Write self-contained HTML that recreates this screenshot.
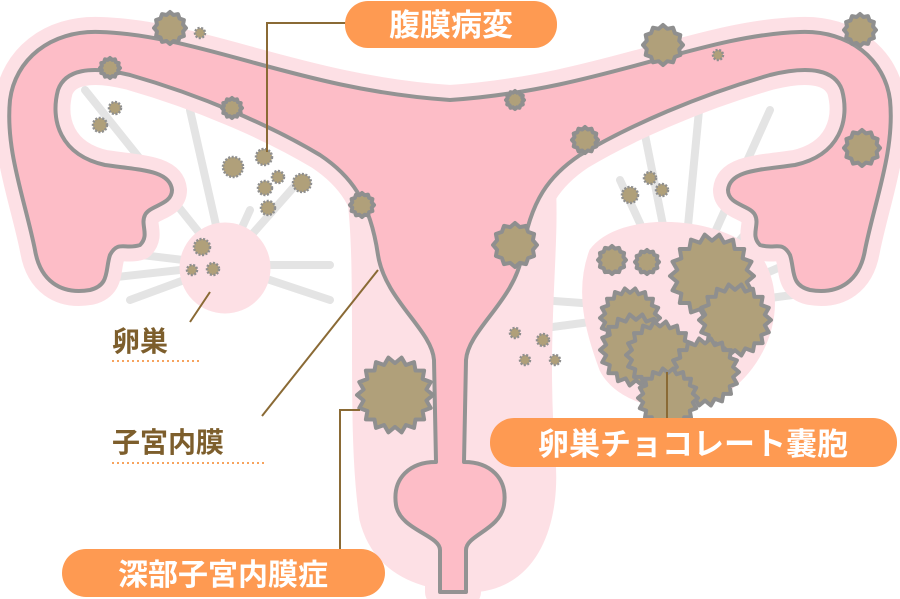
<!DOCTYPE html>
<html><head><meta charset="utf-8"><style>
html,body{margin:0;padding:0;background:#fff;width:900px;height:599px;overflow:hidden}
svg{display:block}
</style></head><body>
<svg id="s" width="900" height="599" viewBox="0 0 900 599" xmlns="http://www.w3.org/2000/svg">
<defs>
<path id="ut" d="M440,592 L440,550 C440,535 400,530 396,505 C392,478 410,462 436,462 L434,360 C432,330 385,300 378,255 C370,200 350,175 320,155 C270,125 200,95 130,75 C90,65 65,70 58,90 C50,120 60,155 105,165 C140,170 170,170 172,190 C172,205 150,205 145,215 C140,225 150,235 140,245 C125,250 118,240 110,255 C105,270 110,285 90,290 C60,295 40,280 35,250 C25,200 5,150 10,100 C15,60 50,30 100,32 C200,35 300,90 450,100 C600,90 700,35 800,32 C850,30 885,60 890,100 C895,150 875,200 865,250 C860,280 840,295 810,290 C790,285 795,270 790,255 C782,240 775,250 760,245 C750,235 760,225 755,215 C750,205 728,205 728,190 C730,170 760,170 795,165 C840,155 850,120 842,90 C835,70 810,65 770,75 C700,95 630,125 580,155 C550,175 530,200 522,255 C515,300 468,330 466,360 L464,462 C490,462 508,478 504,505 C500,530 466,535 466,550 L466,592 Z"/>
</defs>
<!-- ligament spokes -->
<g stroke="#e4e4e4" stroke-width="8" fill="none" stroke-linecap="round">
<path d="M225,265 L85,90 M225,265 L190,110 M225,265 L250,210 M225,265 L300,180 M225,265 L90,280 M225,265 L130,300 M225,265 L330,265 M225,265 L330,300 M225,265 L100,250"/>
<path d="M680,310 L640,110 M680,310 L700,100 M680,310 L770,110 M680,310 L800,170 M680,310 L820,250 M680,310 L830,290 M680,310 L540,300 M680,310 L530,330 M680,310 L620,180"/>
</g>
<!-- halo -->
<g fill="#fde0e5" stroke="#fde0e5" stroke-linejoin="round" stroke-linecap="round">
<path d="M345,180 C360,260 345,420 360,520 C370,560 400,590 470,592 C540,590 560,520 555,460 C545,330 560,250 555,180 Z"/>
<circle cx="225" cy="268" r="45"/>
<path d="M590,250 C620,210 720,215 760,255 C790,300 770,360 730,390 C690,420 620,410 600,370 C585,330 575,290 590,250 Z"/>
</g>
<use href="#ut" fill="#fde0e5" stroke="#fde0e5" stroke-width="30" stroke-linejoin="round"/>
<use href="#ut" fill="#fdbdc7" stroke="#939393" stroke-width="4" stroke-linejoin="round"/>
<!-- ovaries -->
<circle cx="225" cy="266" r="40" fill="#fde0e5"/>
<path d="M595,255 C620,220 720,222 755,258 C780,300 765,355 725,385 C690,410 630,402 608,370 C590,335 582,290 595,255 Z" fill="#fde0e5"/>
<g id="les"></g>
<!-- leader lines -->
<g stroke="#8a6a35" stroke-width="2" fill="none">
<path d="M348,23 L267,23 L267,152"/>
<path d="M210,292 L190,322"/>
<path d="M262,416 L378,270"/>
<path d="M340,552 L340,410 L360,410"/>
<path d="M667,372 L667,420"/>
</g>
<g stroke="#f7a35d" stroke-width="2" stroke-dasharray="2,3">
<line x1="112" y1="361" x2="200" y2="361"/>
<line x1="112" y1="463" x2="265" y2="463"/>
</g>
<!-- labels -->
<rect x="345" y="1" width="212" height="47" rx="23" fill="#fe9a52"/>
<rect x="62" y="549" width="323" height="48" rx="24" fill="#fe9a52"/>
<rect x="490" y="418" width="407" height="49" rx="24" fill="#fe9a52"/>
<g font-family="Liberation Sans,'Noto Sans CJK JP',sans-serif" font-weight="bold">
<text x="451" y="36" fill="#fff" font-size="31" text-anchor="middle">腹膜病変</text>
<text x="223" y="585" fill="#fff" font-size="30" text-anchor="middle">深部子宮内膜症</text>
<text x="693" y="455" fill="#fff" font-size="31" text-anchor="middle">卵巣チョコレート嚢胞</text>
<text x="112" y="351" fill="#7d5e2c" font-size="28">卵巣</text>
<text x="112" y="452" fill="#7d5e2c" font-size="28">子宮内膜</text>
</g>
</svg>
<script>
var g=document.getElementById('les');
function star(cx,cy,r,n){var d='',k=n*2;for(var i=0;i<k;i++){var a=i*Math.PI/n,rr=i%2?r*0.84:r;d+=(i?'L':'M')+(cx+rr*Math.cos(a)).toFixed(1)+','+(cy+rr*Math.sin(a)).toFixed(1);}return d+'Z';}
var big=[[170,28,16],[110,68,10],[232,108,10],[515,100,9],[663,45,20],[860,30,16],[862,148,18],[585,140,13],[362,205,12],[515,245,22],[612,260,14],[647,262,12],
[630,318,30],[712,276,42],[636,350,36],[735,320,36],[660,355,34],[705,372,34],[668,398,30],[395,395,38]];
var sm=[[200,33,5],[718,55,5],[100,125,7],[115,108,6],[233,167,10],[264,157,8],[278,177,6],[302,183,9],[265,188,7],[268,208,7],[202,247,8],[192,270,5],[213,269,6],[630,195,8],[650,178,6],[662,190,6],[515,333,5],[543,340,6],[525,360,5],[555,360,5]];
var h='';
big.forEach(function(b){h+='<path d="'+star(b[0],b[1],b[2],b[2]>25?18:12)+'" fill="#b0a07a" stroke="#8f8f8f" stroke-width="4" stroke-linejoin="round"/>';});
sm.forEach(function(b){h+='<circle cx="'+b[0]+'" cy="'+b[1]+'" r="'+b[2]+'" fill="#b0a07a" stroke="#8f8f8f" stroke-width="2.5" stroke-dasharray="2,1.5"/>';});
g.innerHTML=h;
</script>
</body></html>
